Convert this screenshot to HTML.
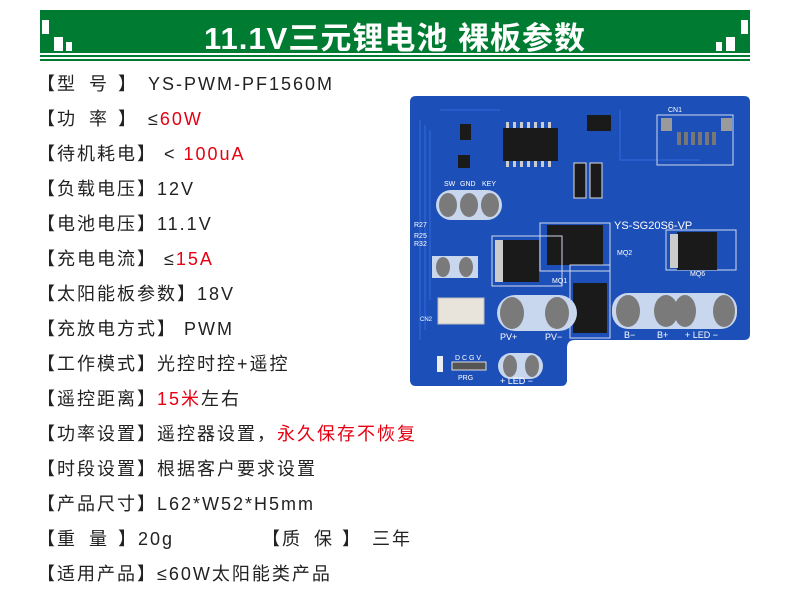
<!DOCTYPE html>
<html><head><meta charset="utf-8"><style>
body{margin:0;width:790px;height:607px;background:#fff;position:relative;overflow:hidden;font-family:"Liberation Sans","Noto Sans CJK SC",sans-serif;}
.hdr{position:absolute;left:40px;top:10px;width:710px;height:43px;background:#007c32;}
.t{position:absolute;left:0;right:0;top:3px;text-align:center;color:#fff;font-size:31px;font-weight:bold;letter-spacing:1px;font-family:"Liberation Sans","Noto Sans CJK SC",sans-serif;}
.sq{position:absolute;background:#fff;}
.ln{position:absolute;left:40px;width:710px;background:#007c32;}
.r{position:absolute;font-size:18px;color:#222;letter-spacing:2px;white-space:pre;line-height:20px;}
.red{color:#e60012;}
</style></head><body>
<div class="hdr"><div class="t">11.1V三元锂电池 裸板参数</div>
<div class="sq" style="left:2px;top:10px;width:7px;height:14px"></div>
<div class="sq" style="left:14px;top:27px;width:9px;height:14px"></div>
<div class="sq" style="left:26px;top:32px;width:6px;height:9px"></div>
<div class="sq" style="left:701px;top:10px;width:7px;height:14px"></div>
<div class="sq" style="left:686px;top:27px;width:9px;height:14px"></div>
<div class="sq" style="left:676px;top:32px;width:6px;height:9px"></div>
</div>
<div class="ln" style="top:55px;height:2px"></div>
<div class="ln" style="top:59px;height:2px"></div>

<div class="r" style="left:37px;top:74px">【</div><div class="r" style="left:57px;top:74px">型</div><div class="r" style="left:89px;top:74px">号</div><div class="r" style="left:118px;top:74px">】</div><div class="r" style="left:148px;top:74px">YS-PWM-PF1560M</div>
<div class="r" style="left:37px;top:109px">【</div><div class="r" style="left:57px;top:109px">功</div><div class="r" style="left:89px;top:109px">率</div><div class="r" style="left:118px;top:109px">】</div><div class="r" style="left:148px;top:109px">≤<span class="red">60W</span></div>
<div class="r" style="left:37px;top:144px">【待机耗电】 &lt; <span class="red">100uA</span></div>
<div class="r" style="left:37px;top:179px">【负载电压】12V</div>
<div class="r" style="left:37px;top:214px">【电池电压】11.1V</div>
<div class="r" style="left:37px;top:249px">【充电电流】 ≤<span class="red">15A</span></div>
<div class="r" style="left:37px;top:284px">【太阳能板参数】18V</div>
<div class="r" style="left:37px;top:319px">【充放电方式】 PWM</div>
<div class="r" style="left:37px;top:354px">【工作模式】光控时控+遥控</div>
<div class="r" style="left:37px;top:389px">【遥控距离】<span class="red">15米</span>左右</div>
<div class="r" style="left:37px;top:424px">【功率设置】遥控器设置，<span class="red">永久保存不恢复</span></div>
<div class="r" style="left:37px;top:459px">【时段设置】根据客户要求设置</div>
<div class="r" style="left:37px;top:494px">【产品尺寸】L62*W52*H5mm</div>
<div class="r" style="left:37px;top:529px">【</div><div class="r" style="left:57px;top:529px">重</div><div class="r" style="left:89px;top:529px">量</div><div class="r" style="left:118px;top:529px">】20g</div>
<div class="r" style="left:262px;top:529px">【</div><div class="r" style="left:282px;top:529px">质</div><div class="r" style="left:314px;top:529px">保</div><div class="r" style="left:342px;top:529px">】</div><div class="r" style="left:372px;top:529px">三年</div>
<div class="r" style="left:37px;top:564px">【适用产品】≤60W太阳能类产品</div>

<svg style="position:absolute;left:0;top:0" width="790" height="607" font-family="Liberation Sans,sans-serif">
<path d="M416,96 H744 Q750,96 750,102 V334 Q750,340 744,340 H575 Q567,340 567,348 V380 Q567,386 561,386 H416 Q410,386 410,380 V102 Q410,96 416,96 Z" fill="#1d4fb8"/>
<g stroke="#2a62d0" stroke-width="1.5" fill="none">
<path d="M420,120 V340 M425,125 V330 M430,130 V300 M440,110 H500 M620,110 V160 H700"/>
</g>
<!-- U1 -->
<rect x="503" y="128" width="55" height="33" fill="#1a1a1a"/>
<g fill="#ccc"><rect x="506" y="122" width="3" height="6"/><rect x="513" y="122" width="3" height="6"/><rect x="520" y="122" width="3" height="6"/><rect x="527" y="122" width="3" height="6"/><rect x="534" y="122" width="3" height="6"/><rect x="541" y="122" width="3" height="6"/><rect x="548" y="122" width="3" height="6"/>
<rect x="506" y="161" width="3" height="6"/><rect x="513" y="161" width="3" height="6"/><rect x="520" y="161" width="3" height="6"/><rect x="527" y="161" width="3" height="6"/><rect x="534" y="161" width="3" height="6"/><rect x="541" y="161" width="3" height="6"/><rect x="548" y="161" width="3" height="6"/></g>
<rect x="587" y="115" width="24" height="16" fill="#1a1a1a"/>
<rect x="460" y="124" width="11" height="16" fill="#1a1a1a"/>
<rect x="458" y="155" width="12" height="13" fill="#1a1a1a"/>
<!-- CN1 -->
<rect x="657" y="115" width="76" height="50" fill="none" stroke="#cfd8ea" stroke-width="1"/>
<rect x="661" y="118" width="11" height="13" fill="#9a9a9a"/><rect x="721" y="118" width="11" height="13" fill="#9a9a9a"/>
<g fill="#777"><rect x="677" y="132" width="4" height="13"/><rect x="684" y="132" width="4" height="13"/><rect x="691" y="132" width="4" height="13"/><rect x="698" y="132" width="4" height="13"/><rect x="705" y="132" width="4" height="13"/><rect x="712" y="132" width="4" height="13"/></g>
<!-- diodes -->
<rect x="574" y="163" width="12" height="35" fill="#1a1a1a" stroke="#ddd"/>
<rect x="590" y="163" width="12" height="35" fill="#1a1a1a" stroke="#ddd"/>
<!-- SW pads -->
<rect x="436" y="190" width="66" height="30" rx="15" fill="#c8d6ee"/>
<ellipse cx="448" cy="205" rx="9" ry="12" fill="#7a7a7a"/><ellipse cx="469" cy="205" rx="9" ry="12" fill="#7a7a7a"/><ellipse cx="490" cy="205" rx="9" ry="12" fill="#7a7a7a"/>
<!-- MOSFETs -->
<rect x="540" y="223" width="70" height="48" fill="none" stroke="#cfd8ea"/>
<rect x="547" y="225" width="56" height="40" fill="#1a1a1a"/>
<rect x="492" y="236" width="70" height="50" fill="none" stroke="#cfd8ea"/>
<rect x="495" y="240" width="44" height="42" fill="#1a1a1a"/><rect x="495" y="240" width="8" height="42" fill="#ccc"/>
<rect x="666" y="230" width="70" height="40" fill="none" stroke="#cfd8ea"/>
<rect x="677" y="232" width="40" height="38" fill="#1a1a1a"/><rect x="670" y="234" width="8" height="34" fill="#ccc"/>
<rect x="570" y="265" width="40" height="73" fill="none" stroke="#cfd8ea"/>
<rect x="573" y="283" width="34" height="50" fill="#1a1a1a"/>
<!-- LED1 pads -->
<rect x="432" y="256" width="46" height="22" fill="#c8d6ee"/>
<ellipse cx="443" cy="267" rx="7" ry="10" fill="#7a7a7a"/><ellipse cx="466" cy="267" rx="7" ry="10" fill="#7a7a7a"/>
<!-- CN2 -->
<rect x="438" y="298" width="46" height="26" fill="#e8e4dc" stroke="#bbb"/>
<!-- PV pads -->
<rect x="497" y="295" width="80" height="36" rx="18" fill="#c8d6ee"/>
<ellipse cx="512" cy="313" rx="12" ry="16" fill="#7a7a7a"/><ellipse cx="557" cy="313" rx="12" ry="16" fill="#7a7a7a"/>
<rect x="612" y="293" width="125" height="36" rx="16" fill="#c8d6ee"/>
<ellipse cx="628" cy="311" rx="12" ry="16" fill="#7a7a7a"/><ellipse cx="666" cy="311" rx="12" ry="16" fill="#7a7a7a"/><ellipse cx="685" cy="311" rx="11" ry="16" fill="#7a7a7a"/><ellipse cx="724" cy="311" rx="11" ry="16" fill="#7a7a7a"/>
<rect x="498" y="353" width="45" height="26" rx="13" fill="#c8d6ee"/>
<ellipse cx="510" cy="366" rx="7" ry="11" fill="#7a7a7a"/><ellipse cx="532" cy="366" rx="7" ry="11" fill="#7a7a7a"/>
<rect x="452" y="362" width="34" height="8" fill="#555" stroke="#ddd"/>
<rect x="437" y="356" width="6" height="16" fill="#eee"/>
<g fill="#fff" font-size="9">
<text x="444" y="186" font-size="7">SW</text><text x="460" y="186" font-size="7">GND</text><text x="482" y="186" font-size="7">KEY</text>
<text x="614" y="229" font-size="11">YS-SG20S6-VP</text>
<text x="500" y="340">PV+</text><text x="545" y="340">PV−</text>
<text x="624" y="338">B−</text><text x="657" y="338">B+</text><text x="685" y="338">+ LED −</text>
<text x="500" y="384">+ LED −</text>
<text x="455" y="360" font-size="7">D C G V</text>
<text x="458" y="380" font-size="7">PRG</text>
<text x="668" y="112" font-size="7">CN1</text>
<text x="414" y="227" font-size="7">R27</text><text x="414" y="238" font-size="7">R25</text><text x="414" y="246" font-size="7">R32</text>
<text x="420" y="321" font-size="6">CN2</text>
<text x="552" y="283" font-size="7">MQ1</text><text x="617" y="255" font-size="7">MQ2</text><text x="690" y="276" font-size="7">MQ6</text>
</g>
</svg>
</body></html>
